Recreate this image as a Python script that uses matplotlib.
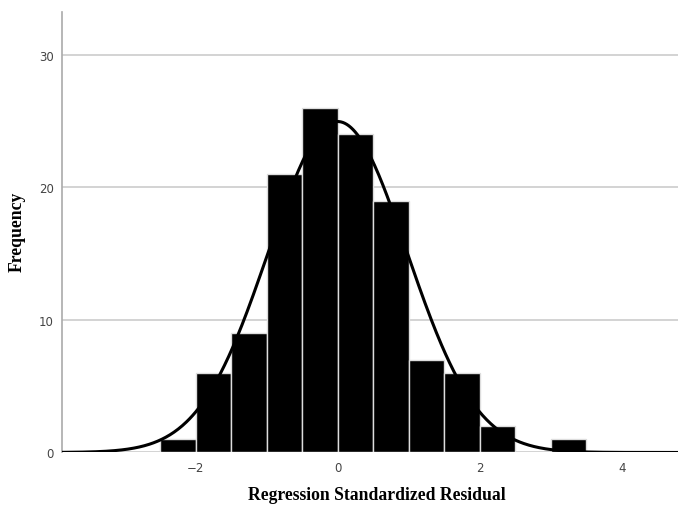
import numpy as np
import matplotlib
matplotlib.use("Agg")
import matplotlib.pyplot as plt

# Histogram of regression standardized residuals (bin width 0.5)
bin_left = [-2.5, -2.0, -1.5, -1.0, -0.5, 0.0, 0.5, 1.0, 1.5, 2.0, 3.0]
counts = [1, 6, 9, 21, 26, 24, 19, 7, 6, 2, 1]
bin_width = 0.5
mean = 0.0
std_dev = 0.975
n_obs = sum(counts)

x_ticks = [-2, 0, 2, 4]
y_ticks = [0, 10, 20, 30]

fig = plt.figure(figsize=(6.78, 5.06), dpi=100)
ax = fig.add_axes([0.0914, 0.1038, 0.9086, 0.870])

ax.set_xlim(-3.88, 4.79)
ax.set_ylim(0, 33.2)

for y in y_ticks:
    ax.axhline(y, color="#cccccc", lw=1.2, zorder=0)

ax.bar(bin_left, counts, width=bin_width, align="edge",
       color="black", edgecolor="#dddddd", linewidth=1.0, zorder=2)

xs = np.linspace(-3.88, 4.79, 600)
pdf = np.exp(-0.5 * ((xs - mean) / std_dev) ** 2) / (std_dev * np.sqrt(2 * np.pi))
ax.plot(xs, n_obs * bin_width * pdf, color="black", lw=2.2, zorder=3)

for side in ["top", "right", "bottom"]:
    ax.spines[side].set_visible(False)
ax.spines["left"].set_color("#aaaaaa")
ax.spines["left"].set_linewidth(1.2)

ax.set_xticks(x_ticks)
ax.set_xticklabels(["\u22122", "0", "2", "4"])
ax.set_yticks(y_ticks)
ax.tick_params(length=0, labelsize=8.5, labelcolor="#444444", pad=6)

label_font = dict(family="Liberation Serif", weight="bold", size=12.7)
fig.text(377 / 678, 1 - 496 / 506, "Regression Standardized Residual",
         ha="center", va="center", **label_font)
fig.text(17 / 678, 1 - 232 / 506, "Frequency", rotation=90,
         ha="center", va="center", **label_font)

fig.savefig("out.png", dpi=100)
